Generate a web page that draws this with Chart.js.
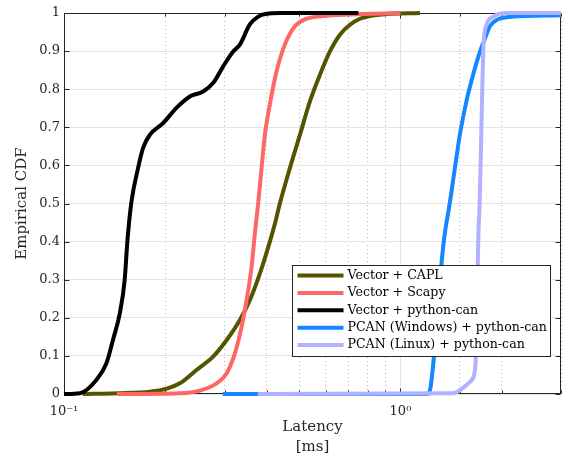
<!DOCTYPE html>
<html>
<head>
<meta charset="utf-8">
<script src="https://cdn.jsdelivr.net/npm/chart.js@4/dist/chart.umd.min.js"></script>
<style>
  body { margin: 0; background: #fff; }
  canvas { display: block; }
</style>
</head>
<body>
<canvas id="cdf-chart" width="562" height="457"></canvas>
<script>
// Latency samples (ms) and their empirical CDF, one pair of arrays per setup
const seriesNames = [
  "Vector + CAPL",
  "Vector + Scapy",
  "Vector + python-can",
  "PCAN (Windows) + python-can",
  "PCAN (Linux) + python-can"
];
const seriesColors = ["#545400", "#ff6666", "#000000", "#1487ff", "#b1b1ff"];

const caplX = [0.1137, 0.1435, 0.1799, 0.2020, 0.2209, 0.2476, 0.2774, 0.3041, 0.3332, 0.3567, 0.3820, 0.4044, 0.4233, 0.4381, 0.4692, 0.5025, 0.5381, 0.5763, 0.6171, 0.6607, 0.7076, 0.7577, 0.8115, 0.8993, 1.1428];
const caplY = [0, 0.002, 0.006, 0.014, 0.028, 0.063, 0.098, 0.141, 0.194, 0.246, 0.316, 0.385, 0.446, 0.50, 0.593, 0.68, 0.768, 0.838, 0.899, 0.943, 0.969, 0.985, 0.992, 0.997, 1];

const scapyX = [0.1435, 0.2209, 0.2533, 0.2840, 0.3041, 0.3219, 0.3371, 0.3488, 0.3609, 0.3692, 0.3776, 0.3865, 0.3954, 0.4091, 0.4283, 0.4533, 0.4856, 0.5260, 0.5881, 0.7076, 1.0];
const scapyY = [0, 0.002, 0.009, 0.028, 0.054, 0.106, 0.176, 0.246, 0.333, 0.421, 0.50, 0.593, 0.68, 0.76, 0.847, 0.917, 0.965, 0.985, 0.992, 0.996, 1];

const pycanX = [0.1, 0.1114, 0.1248, 0.1336, 0.1398, 0.1464, 0.1515, 0.1544, 0.1587, 0.1660, 0.1718, 0.1799, 0.1970, 0.2159, 0.2365, 0.2591, 0.2774, 0.2972, 0.3183, 0.3332, 0.3567, 0.3768, 0.3999, 0.4381, 0.75];
const pycanY = [0, 0.002, 0.037, 0.08, 0.142, 0.21, 0.30, 0.404, 0.505, 0.593, 0.646, 0.68, 0.711, 0.751, 0.781, 0.794, 0.816, 0.86, 0.899, 0.917, 0.97, 0.99, 0.998, 1, 1];

const pcanWinX = [0.2965, 1.1989, 1.2236, 1.2519, 1.2813, 1.3106, 1.3470, 1.4035, 1.4525, 1.5031, 1.5737, 1.6465, 1.7240, 1.7840, 1.8462, 1.9326, 2.0697, 3.0];
const pcanWinY = [0, 0, 0.01, 0.08, 0.19, 0.30, 0.405, 0.505, 0.595, 0.683, 0.772, 0.840, 0.899, 0.934, 0.966, 0.982, 0.989, 0.994];

const pcanLinX = [0.3768, 1.4328, 1.5737, 1.6286, 1.6715, 1.6886, 1.7061, 1.7179, 1.7357, 1.7536, 1.7658, 1.8024, 1.8844, 2.0740, 3.0];
const pcanLinY = [0, 0.002, 0.024, 0.037, 0.08, 0.25, 0.43, 0.49, 0.655, 0.83, 0.917, 0.969, 0.99, 1, 1];

const seriesX = [caplX, scapyX, pycanX, pcanWinX, pcanLinX];
const seriesY = [caplY, scapyY, pycanY, pcanWinY, pcanLinY];

// axis settings
const xMin = 0.1, xMax = 3;
const yTicks = [0, 0.1, 0.2, 0.3, 0.4, 0.5, 0.6, 0.7, 0.8, 0.9, 1];
const xTickLabels = { "0.1": "10\u207B\u00B9", "1": "10\u2070" };

const FONT = "'DejaVu Serif', serif";
const AXIS_COLOR = "#262626";

function isDecade(v) {
  const l = Math.log10(v);
  return Math.abs(l - Math.round(l)) < 1e-6;
}

const datasets = seriesNames.map((name, i) => ({
  label: name,
  data: seriesX[i].map((x, j) => ({ x: x, y: seriesY[i][j] })),
  borderColor: seriesColors[i],
  backgroundColor: seriesColors[i],
  borderWidth: 4,
  pointRadius: 0,
  cubicInterpolationMode: "monotone",
  clip: false,
  // later series are painted on top
  order: seriesNames.length - 1 - i
}));

// box around the plot with inward tick marks (drawn under the curves)
const frame = {
  id: "frame",
  beforeDatasetsDraw(chart) {
    const { ctx, chartArea: a, scales } = chart;
    const L = Math.round(a.left) + 0.5, R = Math.round(a.right) - 0.5;
    const T = Math.round(a.top) + 0.5, B = Math.round(a.bottom) - 0.5;
    ctx.save();
    ctx.strokeStyle = AXIS_COLOR;
    ctx.lineWidth = 1;
    ctx.strokeRect(L, T, R - L, B - T);
    ctx.beginPath();
    yTicks.forEach(v => {
      const y = Math.round(scales.y.getPixelForValue(v)) + 0.5;
      ctx.moveTo(L, y); ctx.lineTo(L + 5, y);
      ctx.moveTo(R, y); ctx.lineTo(R - 5, y);
    });
    scales.x.ticks.forEach(t => {
      const x = Math.round(scales.x.getPixelForValue(t.value)) + 0.5;
      const len = isDecade(t.value) ? 5 : 3;
      ctx.moveTo(x, B); ctx.lineTo(x, B - len);
      ctx.moveTo(x, T); ctx.lineTo(x, T + len);
    });
    ctx.stroke();
    ctx.restore();
  }
};

// legend box in the lower right of the plot
const legendBox = {
  id: "legendBox",
  afterDatasetsDraw(chart) {
    const { ctx, chartArea: a } = chart;
    const w = 258, h = 91;
    const x0 = Math.round(a.right - 11 - w) + 0.5;
    const y0 = Math.round(a.bottom - 38 - h) + 0.5;
    ctx.save();
    ctx.fillStyle = "#fff";
    ctx.fillRect(x0, y0, w, h);
    ctx.strokeStyle = AXIS_COLOR;
    ctx.lineWidth = 1;
    ctx.strokeRect(x0, y0, w, h);
    ctx.font = "12.6px " + FONT;
    ctx.textBaseline = "middle";
    ctx.textAlign = "left";
    chart.data.datasets.forEach((ds, i) => {
      const y = y0 + 10 + i * 17.4;
      ctx.strokeStyle = ds.borderColor;
      ctx.lineWidth = 4;
      ctx.beginPath();
      ctx.moveTo(x0 + 5, y);
      ctx.lineTo(x0 + 51, y);
      ctx.stroke();
      ctx.fillStyle = "#000";
      ctx.fillText(ds.label, x0 + 55, y);
    });
    ctx.restore();
  }
};

new Chart(document.getElementById("cdf-chart"), {
  type: "line",
  data: { datasets: datasets },
  options: {
    responsive: false,
    animation: false,
    layout: { padding: { top: 13, right: 1, left: 0, bottom: 0 } },
    plugins: { legend: { display: false }, tooltip: { enabled: false } },
    scales: {
      x: {
        type: "logarithmic",
        min: xMin,
        max: xMax,
        afterFit: s => {
          s.height = 63;
          s.paddingLeft = 0;
          s.paddingRight = 0;
        },
        border: {
          display: false,
          dash: c => (c.tick && !isDecade(c.tick.value)) ? [1, 3] : []
        },
        grid: {
          drawTicks: false,
          color: c => (c.tick && isDecade(c.tick.value)) ? "#e2e2e2" : "#b8b8b8"
        },
        ticks: {
          autoSkip: false,
          maxRotation: 0,
          padding: 10,
          color: AXIS_COLOR,
          font: { family: FONT, size: 13 },
          callback: v => xTickLabels[String(+v.toFixed(3))] || ""
        },
        title: {
          display: true,
          text: ["Latency", "[ms]"],
          color: AXIS_COLOR,
          font: { family: FONT, size: 15, lineHeight: 1.333 },
          padding: { top: 0, bottom: 0 }
        }
      },
      y: {
        type: "linear",
        min: 0,
        max: 1,
        afterFit: s => { s.width = 64; },
        afterBuildTicks: s => { s.ticks = yTicks.map(v => ({ value: v })); },
        border: { display: false },
        grid: { drawTicks: false, color: "#e4e4e4" },
        ticks: {
          padding: 4,
          color: AXIS_COLOR,
          font: { family: FONT, size: 13 },
          callback: v => String(+v.toFixed(1))
        },
        title: {
          display: true,
          text: "Empirical CDF",
          color: AXIS_COLOR,
          font: { family: FONT, size: 15 },
          padding: { top: 13, bottom: 0 }
        }
      }
    }
  },
  plugins: [frame, legendBox]
});
</script>
</body>
</html>
